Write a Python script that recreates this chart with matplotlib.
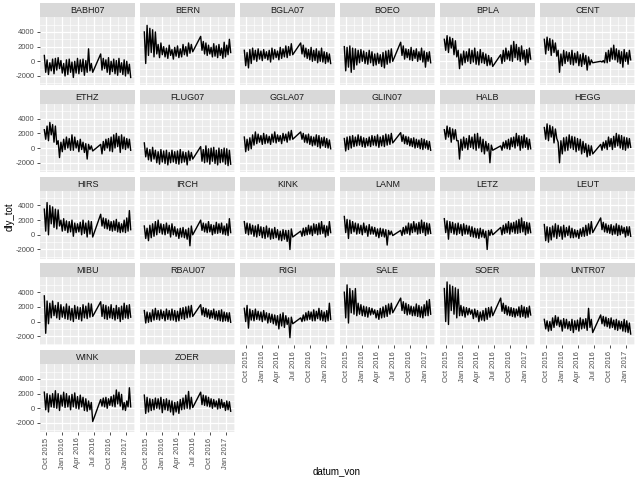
import numpy as np
import matplotlib
matplotlib.use("Agg")
import matplotlib.pyplot as plt
import matplotlib.dates as mdates
from datetime import datetime

plt.rcParams['font.family'] = ['Liberation Sans', 'DejaVu Sans']

# station names, in facet order
stations = ["BABH07", "BERN", "BGLA07", "BOEO", "BPLA", "CENT",
            "ETHZ", "FLUG07", "GGLA07", "GLIN07", "HALB", "HEGG",
            "HIRS", "IRCH", "KINK", "LANM", "LETZ", "LEUT",
            "MIBU", "RBAU07", "RIGI", "SALE", "SOER", "UNTR07",
            "WINK", "ZOER"]

# dly_tot (high / low alternating):
# first 36 values Sep 2015 - Jun 2016, last 24 values Aug 2016 - Jan 2017
BABH07 = [800, -1500, 200, -1800, -200, -1300, 300, -1700, 400, -1200, 500, -1000,
          100, -1600, -300, -2000, 200, -1800, 300, -1500, -100, -2200, 0, -1600,
          400, -1700, 200, -1400, 300, -1900, 100, -1500, 1700, -1300, -300, -1500,
          1000, -1200, 400, -1000, 200, -1500, 500, -1800, 0, -1400, 300, -1700,
          100, -1900, 400, -1500, -200, -1800, 200, -2000, 0, -1700, -400, -2200]
BERN = [4000, -300, 4900, 800, 4500, 1200, 4300, 600, 4000, 1000, 2300, 500,
        2500, 900, 2000, 600, 1800, 400, 2200, 800, 1600, 300, 1900, 700,
        2100, 500, 1700, 600, 2300, 900, 2000, 700, 2500, 1100, 2300, 1300,
        3400, 1500, 2700, 1000, 2500, 800, 2200, 1000, 1900, 600, 2400, 700,
        2100, 500, 2300, 800, 1800, 400, 2600, 600, 2200, 900, 3000, 1200]
BGLA07 = [1500, -600, 1200, -900, 1600, -300, 1800, 200, 1500, 0, 1700, 300,
          1400, 100, 1600, 400, 1300, 200, 1500, -100, 1800, 300, 1600, 500,
          1400, 200, 1900, 400, 1700, 600, 2100, 500, 2000, 800, 2400, 900,
          2500, 1000, 2200, 600, 1800, 400, 1600, 200, 1900, 0, 1500, 100,
          1700, -200, 1400, 0, 1800, -100, 1300, -300, 1200, -100, 1000, -300]
BOEO = [2000, -1300, 1900, -800, 2100, -1500, 1800, -1100, 1700, -500, 1500, -200,
        1600, 0, 1400, -300, 1200, -400, 1500, -200, 1300, -600, 1000, -500,
        1100, -300, 900, -700, 1200, -900, 1400, -400, 1500, -200, 1700, 0,
        2600, 800, 2100, 300, 1700, 500, 1600, 200, 1900, 100, 1500, 400,
        1700, 0, 1300, 200, 1800, -100, 1400, -800, 1200, 0, 1300, -200]
BPLA = [3000, 1500, 3500, 1200, 3300, 1800, 3100, 900, 2800, 600, 1500, -1000,
        1000, -500, 1400, -200, 1300, 0, 1700, -300, 1500, -100, 1800, -400,
        1300, -500, 1600, -200, 1200, -300, 1000, -600, 800, -500, 500, -700,
        900, -300, 1500, 0, 1800, 300, 1400, 100, 2200, 0, 2700, 500,
        2300, 200, 1900, 0, 2100, 300, 1500, -500, 1600, -200, 1800, 300]
CENT = [3000, 1000, 3300, 1500, 3100, 800, 2900, 1200, 2500, 700, 1500, -1500,
        1000, -600, 1500, -300, 1300, 0, 1200, -400, 1500, -500, 1100, -200,
        1300, -600, 900, -700, 1100, -400, 800, -1200, 600, -500, 200, -200,
        0, -100, 100, -200, 1200, -200, 1500, 0, 1800, 300, 2200, 200,
        1700, -100, 1500, -300, 1300, -800, 1600, 0, 1200, -400, 1500, 200]
ETHZ = [2500, 1200, 3000, 1000, 3500, 1800, 3200, 800, 3000, 500, 1000, -1300,
        800, -500, 1200, -200, 1500, 0, 1300, -300, 1800, -300, 1500, 0,
        1000, -500, 1200, -200, 800, -600, 600, -1500, 500, -200, 300, -400,
        500, -800, 900, -300, 1200, 0, 1300, -400, 1500, -500, 1800, 0,
        2000, 200, 1600, -600, 1800, -100, 1500, -200, 1300, 0, 1200, -300]
FLUG07 = [700, -1200, 0, -1600, -200, -1800, 100, -1500, -300, -2000, -500, -2200,
          -200, -1900, -400, -2100, -300, -2300, -600, -2000, -300, -1900, -500, -2100,
          -400, -2200, -200, -2000, -500, -1900, -600, -2300, -400, -1700, -600, -1500,
          200, -1800, -200, -2000, 300, -1900, -100, -2200, 0, -1800, 100, -2100,
          -300, -2300, 0, -2000, -200, -1900, 0, -2200, -100, -2400, -300, -2200]
GGLA07 = [1500, -500, 1200, -300, 1400, -100, 1800, 400, 2200, 600, 1900, 800,
          1700, 500, 2000, 600, 1800, 700, 1600, 500, 1900, 800, 2200, 700,
          1800, 900, 1700, 600, 2000, 1000, 1900, 800, 2200, 1100, 2400, 1200,
          2200, 1200, 2000, 800, 1800, 700, 1900, 500, 1600, 300, 1500, 400,
          1800, 200, 1700, 0, 1400, 300, 1500, 100, 1300, 0, 1100, -100]
GLIN07 = [1300, -400, 1500, -200, 1600, 0, 1700, 200, 1500, 300, 1800, 400,
          1600, 200, 1400, 100, 1300, 300, 1500, 200, 1700, 400, 1600, 300,
          1800, 100, 1500, 300, 1700, 200, 1900, 400, 1800, 500, 2000, 700,
          2100, 900, 1800, 600, 1600, 500, 1500, 300, 1300, 200, 1400, 0,
          1200, 100, 1100, -100, 1300, -200, 1200, 0, 1000, -200, 900, -300]
HALB = [2500, 1200, 3000, 1500, 2800, 800, 2600, 1200, 2500, 1000, 1000, -1500,
        1200, -300, 1500, 0, 1300, -200, 1700, 100, 1500, -100, 1900, -300,
        2000, 0, 1500, -500, 1200, -800, 900, -400, 600, -2000, 400, -300,
        300, -300, 800, 0, 1000, -100, 1200, -200, 1400, 200, 1500, 0,
        2000, 300, 1700, -300, 1600, 0, 1800, 100, 1400, -200, 1200, -100]
HEGG = [2800, 1200, 3300, 1000, 3100, 1500, 2900, 700, 2600, 1300, 800, -2000,
        1000, -800, 1400, -400, 1500, -300, 1800, 0, 1600, -200, 1500, -500,
        1300, -300, 1200, -800, 900, -600, 600, -1200, 400, -1000, 300, -800,
        500, -300, 800, 0, 1000, -200, 1500, 200, 1300, -200, 1600, 100,
        2000, 300, 1800, 0, 1700, -200, 1500, -300, 1400, 0, 1300, 100]
HIRS = [3500, 500, 4400, 0, 4000, 1500, 3800, 1000, 3500, 800, 3400, 1200,
        2000, 500, 2200, 600, 1900, 300, 1800, 400, 2000, -200, 1600, 300,
        1500, 400, 1700, 0, 2000, 200, 1600, -300, 1900, 100, 1800, -300,
        2800, 1200, 2300, 900, 2200, 800, 2000, 600, 1800, 500, 1900, 600,
        2100, 400, 1700, 300, 1500, 400, 2000, 300, 2300, 500, 3300, 700]
IRCH = [1200, -500, 900, -800, 1300, -400, 1500, -200, 1800, 0, 2000, 300,
        1500, 100, 1400, 0, 1600, 200, 1300, -300, 1500, 0, 1100, -200,
        800, -500, 900, -300, 1000, -400, 700, -600, 900, -1500, 1200, 0,
        2000, 600, 1600, 400, 1500, 300, 1800, 400, 1400, 0, 1300, 200,
        1700, 200, 1500, 300, 1600, 100, 1200, 0, 1500, -100, 2200, 300]
KINK = [1800, 200, 1600, 0, 1500, 100, 1300, -200, 1200, -300, 1400, -100,
        1100, -400, 1000, -500, 1200, -300, 900, -600, 800, -500, 1000, -400,
        700, -700, 500, -800, 700, -600, 600, -900, 600, -2000, 800, -300,
        500, -200, 900, -100, 1000, 0, 1300, 100, 1200, -100, 1500, 200,
        1400, 0, 1600, 100, 1800, 200, 1300, -300, 1200, -100, 1800, 300]
LANM = [2500, 300, 2100, -500, 2000, 200, 1800, 400, 1600, 100, 1500, 200,
        1300, 0, 1600, 300, 1200, -200, 1400, 100, 1100, 100, 1000, -200,
        800, -400, 900, -200, 800, -300, 700, -1400, 600, 0, 500, -100,
        600, -100, 1000, 100, 1200, 200, 1600, 0, 1500, 300, 1800, 400,
        1500, 100, 1700, 200, 2000, 300, 1700, -100, 1600, 100, 1500, 200]
LETZ = [2200, 300, 1900, -600, 1800, 300, 1700, 100, 1500, 0, 1600, 200,
        1400, -100, 1500, 100, 1300, 100, 1200, -200, 1100, -300, 900, -400,
        800, -500, 900, -300, 700, -400, 500, -2000, 600, -100, 700, 0,
        1000, 0, 1300, 200, 1500, 300, 1800, 100, 1600, 400, 1700, 200,
        1900, 200, 2100, 300, 2300, 400, 1800, 0, 1700, 200, 1600, 300]
LEUT = [1400, -800, 1100, -1000, 1000, -700, 1200, -300, 1500, -500, 1300, -200,
        1100, -600, 1300, -300, 1000, -100, 1200, -400, 900, -400, 700, -300,
        600, -500, 800, -200, 1000, -200, 1300, -100, 1500, 100, 1800, 300,
        2300, 700, 1700, 400, 1500, 300, 1300, 200, 1400, 0, 1200, 100,
        1500, -100, 1300, 0, 1200, 200, 1000, -300, 1100, -100, 1100, -200]
MIBU = [3500, -1600, 2800, -300, 2500, 500, 2800, 800, 2200, 500, 2600, 300,
        2300, 600, 2000, 400, 2400, 300, 2100, 200, 1800, 0, 2200, 400,
        2000, 300, 1900, 100, 2300, 500, 2100, 400, 2500, 600, 2400, 700,
        2700, 700, 2300, 400, 2200, 300, 2000, 500, 2300, 400, 1800, 200,
        2200, 400, 1900, 0, 2100, 300, 2500, 500, 2200, 400, 2300, 600]
RBAU07 = [1500, -200, 1300, -100, 1200, 0, 1600, 200, 1800, 300, 1500, 200,
          1600, 400, 1400, 100, 1700, 300, 1500, 200, 1700, 200, 1500, 0,
          1400, 100, 1800, 400, 1900, 300, 2000, 500, 2100, 600, 2200, 700,
          2300, 900, 1900, 700, 1800, 600, 1600, 400, 1500, 500, 1700, 300,
          1400, 200, 1500, 100, 1600, 0, 1300, 100, 1200, 0, 1200, -100]
RIGI = [1800, 0, 2200, -900, 1700, 200, 1500, 100, 1700, 300, 1400, 200,
        1300, 0, 1500, 200, 1200, -200, 1100, -100, 1000, -300, 900, -500,
        800, -1000, 1000, -600, 1200, -800, 800, -400, 500, -2200, 600, -300,
        500, 0, 900, 100, 1200, 200, 1400, 300, 1300, 100, 1600, 100,
        1400, 400, 1800, 200, 1500, 100, 1300, 0, 1500, 100, 2500, 300]
SALE = [4000, 500, 5000, -200, 4500, 1200, 4200, 1000, 4500, 800, 2500, 1000,
        2300, 800, 2100, 700, 2000, 600, 1900, 900, 1800, 1000, 1600, 500,
        1500, 300, 1800, 500, 2000, 600, 2200, 700, 2400, 1000, 2500, 1200,
        3200, 1500, 2700, 1100, 2500, 900, 2300, 1000, 2100, 800, 2000, 800,
        2400, 700, 2200, 600, 2000, 500, 2300, 800, 2800, 800, 3000, 1000]
SOER = [4500, 0, 5400, -400, 5000, 1500, 4800, 1000, 4600, 500, 4400, 800,
        2200, 800, 2000, 600, 1900, 900, 1800, 1000, 1600, 400, 1700, 600,
        1500, 0, 1300, 200, 1500, 100, 1800, 300, 1900, 600, 2000, 800,
        3200, 1400, 2500, 1100, 2200, 900, 2000, 800, 1900, 700, 1800, 600,
        1700, 800, 2000, 600, 2200, 700, 2000, 500, 1900, 600, 2100, 900]
UNTR07 = [300, -1000, 100, -1300, 0, -1200, 500, -800, 800, -500, 600, -700,
          200, -1300, 400, -900, 300, -1000, 0, -1200, 300, -1500, 100, -1100,
          200, -1300, 500, -1000, 300, -900, 400, -1200, 1800, -800, 300, -1500,
          900, -300, 700, -600, 600, -700, 400, -900, 500, -800, 200, -1100,
          300, -1200, 100, -1000, 0, -1300, 300, -1400, 100, -1500, -200, -1700]
WINK = [2200, -200, 2000, -500, 1800, 200, 2000, 100, 2400, 0, 2000, -300,
        1800, 300, 2200, 100, 2000, 200, 1700, -200, 1900, 200, 2100, 0,
        1600, -100, 1800, 200, 1500, -300, 1300, -400, 1000, -200, 800, -1800,
        1200, 300, 1400, 200, 1500, 0, 1300, 400, 1600, 300, 1800, 200,
        2500, 600, 2200, 300, 1900, -200, 800, -300, 1000, 200, 2800, 200]
ZOER = [1800, -700, 1500, -500, 1300, -300, 1200, -200, 1400, 0, 1300, -100,
        1500, -600, 1200, -200, 1300, -300, 1100, -500, 1000, -900, 800, -500,
        900, -700, 1200, -200, 1400, -100, 1800, 0, 2300, -100, 1500, 100,
        2200, 500, 1800, 400, 1700, 300, 1500, 200, 1300, 0, 1200, 200,
        1000, -100, 1300, 0, 1200, 100, 800, -300, 1000, -200, 900, -400]

series = [BABH07, BERN, BGLA07, BOEO, BPLA, CENT, ETHZ, FLUG07, GGLA07, GLIN07,
          HALB, HEGG, HIRS, IRCH, KINK, LANM, LETZ, LEUT, MIBU, RBAU07, RIGI,
          SALE, SOER, UNTR07, WINK, ZOER]

n1, n2 = 36, 24
t1 = mdates.date2num([datetime(2015, 9, 20), datetime(2016, 6, 25)])
t2 = mdates.date2num([datetime(2016, 8, 10), datetime(2017, 1, 30)])
dates = np.concatenate([np.linspace(t1[0], t1[1], n1),
                        np.linspace(t2[0], t2[1], n2)])

span = t2[1] - t1[0]
xlim = (t1[0] - 0.05 * span, t2[1] + 0.05 * span)
ylim = (-3230, 6040)

major_x = mdates.date2num([datetime(2015, 10, 1), datetime(2016, 1, 1), datetime(2016, 4, 1),
                           datetime(2016, 7, 1), datetime(2016, 10, 1), datetime(2017, 1, 1)])
step = np.diff(major_x).mean()
minor_x = np.concatenate([[major_x[0] - step / 2], (major_x[:-1] + major_x[1:]) / 2,
                          [major_x[-1] + step / 2]])
minor_x = [m for m in minor_x if xlim[0] < m < xlim[1]]

W, H = 640, 480
fig = plt.figure(figsize=(6.4, 4.8), dpi=100)

col_left = [40, 140, 240, 340, 440, 540]
pw, ph, sh = 95, 68, 14
pitch = 86.75

for i, (name, vals) in enumerate(zip(stations, series)):
    r, c = divmod(i, 6)
    top = 3 + r * pitch
    # strip
    sax = fig.add_axes([col_left[c] / W, 1 - (top + sh) / H, pw / W, sh / H])
    sax.set_facecolor('#D9D9D9')
    sax.set_xticks([]); sax.set_yticks([])
    for s in sax.spines.values():
        s.set_visible(False)
    sax.text(0.5, 0.45, name, ha='center', va='center', fontsize=6.5, color='#1A1A1A')

    ax = fig.add_axes([col_left[c] / W, 1 - (top + sh + ph) / H, pw / W, ph / H])
    ax.set_facecolor('#EBEBEB')
    for s in ax.spines.values():
        s.set_visible(False)
    ax.set_xlim(xlim)
    ax.set_ylim(ylim)
    ax.set_xticks(major_x)
    ax.set_xticks(minor_x, minor=True)
    ax.set_yticks([-2000, 0, 2000, 4000])
    ax.set_yticks([-3000, -1000, 1000, 3000, 5000], minor=True)
    ax.grid(which='major', color='white', linewidth=0.9)
    ax.grid(which='minor', color='white', linewidth=0.45)
    ax.set_axisbelow(True)
    ax.tick_params(which='minor', length=0)
    ax.tick_params(which='major', length=2.5, width=0.6, color='#333333',
                   labelsize=5.5, labelcolor='#4D4D4D', pad=1.5)

    ax.plot(dates, np.array(vals), color='black', linewidth=1.0)

    if c == 0:
        ax.set_yticklabels(['-2000', '0', '2000', '4000'])
    else:
        ax.tick_params(axis='y', length=0, labelleft=False)
    if i + 6 >= len(stations):
        ax.xaxis.set_major_formatter(mdates.DateFormatter('%b %Y'))
        for lab in ax.get_xticklabels():
            lab.set_rotation(90)
    else:
        ax.tick_params(axis='x', length=0, labelbottom=False)

fig.text(10 / W, 1 - 217 / H, 'dly_tot', rotation=90, ha='center', va='center',
         fontsize=7, color='black')
fig.text(337 / W, 1 - 471 / H, 'datum_von', ha='center', va='center',
         fontsize=7, color='black')

fig.savefig('out.png', dpi=100)
